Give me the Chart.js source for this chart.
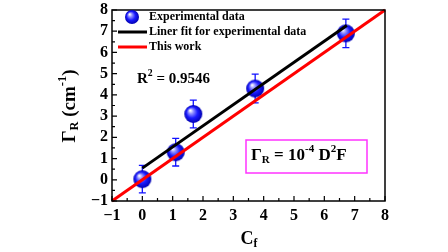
<!DOCTYPE html>
<html>
<head>
<meta charset="utf-8">
<script src="https://cdn.jsdelivr.net/npm/chart.js@4.4.1/dist/chart.umd.min.js"></script>
<style>
  html, body { margin: 0; padding: 0; background: #fff; }
  #wrap { width: 448px; height: 252px; }
</style>
</head>
<body>
<div id="wrap"><canvas id="c" width="448" height="252"></canvas></div>
<script>
'use strict';

// ===== data =====
const cfValues    = [0, 1.1, 1.68, 3.72, 6.71];
const gammaValues = [0.03, 1.3, 3.1, 4.3, 6.9];
const gammaErrors = [0.65, 0.65, 0.65, 0.68, 0.67];

const fitX = [0, 6.74];
const fitY = [0.55, 7.27];

const workX = [-1, 8];
const workY = [-1, 8];

const tickValues = [-1, 0, 1, 2, 3, 4, 5, 6, 7, 8];
const legendLabels = ['Experimental data', 'Liner fit for experimental data', 'This work'];

const FONT = '"Liberation Serif", "Times New Roman", serif';

// 球マーカー
function makeBall(r) {
  const cv = document.createElement('canvas');
  cv.width = cv.height = r * 2 + 2;
  const g = cv.getContext('2d');
  const c = r + 1;
  const grad = g.createRadialGradient(c - r * 0.35, c - r * 0.4, r * 0.05, c, c, r);
  grad.addColorStop(0, '#ffffff');
  grad.addColorStop(0.25, '#8f8fff');
  grad.addColorStop(0.6, '#1a1aff');
  grad.addColorStop(1, '#0000b0');
  g.fillStyle = grad;
  g.beginPath();
  g.arc(c, c, r, 0, Math.PI * 2);
  g.fill();
  return cv;
}
const ball = makeBall(9);
const ballSmall = makeBall(7);

function pts(xs, ys) {
  return xs.map((x, i) => ({ x: x, y: ys[i] }));
}

// 上付き・下付きテキスト
function drawRich(ctx, parts, x, y, size) {
  let cx = x;
  parts.forEach(([txt, mode]) => {
    let fs = size, dy = 0;
    if (mode === 'sub') { fs = size * 0.65; dy = size * 0.25; }
    if (mode === 'sup') { fs = size * 0.65; dy = -size * 0.38; }
    ctx.font = 'bold ' + fs + 'px ' + FONT;
    ctx.fillText(txt, cx, y + dy);
    cx += ctx.measureText(txt).width;
  });
  return cx - x;
}
function richWidth(ctx, parts, size) {
  let w = 0;
  parts.forEach(([txt, mode]) => {
    const fs = mode ? size * 0.65 : size;
    ctx.font = 'bold ' + fs + 'px ' + FONT;
    w += ctx.measureText(txt).width;
  });
  return w;
}

// ===== plugins =====
const errorBars = {
  id: 'errorBars',
  beforeDatasetsDraw(chart) {
    const { ctx, scales: { x, y } } = chart;
    ctx.save();
    ctx.strokeStyle = '#1010ff';
    ctx.lineWidth = 1.3;
    cfValues.forEach((v, i) => {
      const px = x.getPixelForValue(v);
      const top = y.getPixelForValue(gammaValues[i] + gammaErrors[i]);
      const bot = y.getPixelForValue(gammaValues[i] - gammaErrors[i]);
      ctx.beginPath();
      ctx.moveTo(px, top); ctx.lineTo(px, bot);
      ctx.moveTo(px - 3.5, top); ctx.lineTo(px + 3.5, top);
      ctx.moveTo(px - 3.5, bot); ctx.lineTo(px + 3.5, bot);
      ctx.stroke();
    });
    ctx.restore();
  }
};

const decorations = {
  id: 'decorations',
  afterDraw(chart) {
    const { ctx, chartArea: a, scales: { x, y } } = chart;
    ctx.save();

    // 枠
    ctx.strokeStyle = '#000';
    ctx.lineWidth = 1.5;
    ctx.strokeRect(a.left, a.top, a.right - a.left, a.bottom - a.top);

    // 内向き目盛
    ctx.lineWidth = 1.2;
    for (let v = -1; v <= 8; v += 0.5) {
      const major = Number.isInteger(v);
      const len = major ? 5 : 3;
      const px = x.getPixelForValue(v);
      const py = y.getPixelForValue(v);
      ctx.beginPath();
      ctx.moveTo(px, a.bottom); ctx.lineTo(px, a.bottom - len);
      ctx.moveTo(a.left, py); ctx.lineTo(a.left + len, py);
      ctx.stroke();
    }

    ctx.fillStyle = '#000';
    ctx.textBaseline = 'middle';

    // 凡例
    const lx = 118, tx = 149;
    const rows = [17, 32, 47];
    ctx.drawImage(ballSmall, 132 - 8, rows[0] - 8);
    ctx.lineWidth = 3;
    ctx.strokeStyle = '#000';
    ctx.beginPath(); ctx.moveTo(lx, rows[1]); ctx.lineTo(tx - 2, rows[1]); ctx.stroke();
    ctx.strokeStyle = '#ff0000';
    ctx.beginPath(); ctx.moveTo(lx, rows[2]); ctx.lineTo(tx - 2, rows[2]); ctx.stroke();
    ctx.font = 'bold 12px ' + FONT;
    legendLabels.forEach((t, i) => ctx.fillText(t, tx, rows[i]));

    // R²
    drawRich(ctx, [['R', null], ['2', 'sup'], [' = 0.9546', null]], 137, 79, 15);

    // 式の枠
    ctx.strokeStyle = '#ff33ff';
    ctx.lineWidth = 1.5;
    ctx.strokeRect(246, 140, 121, 33);
    drawRich(ctx, [['Γ', null], ['R', 'sub'], [' = 10', null], ['-4', 'sup'], [' D', null], ['2', 'sup'], ['F', null]], 251, 156, 17);

    // 軸タイトル
    const xt = [['C', null], ['f', 'sub']];
    drawRich(ctx, xt, 249 - richWidth(ctx, xt, 18) / 2, 239, 18);

    const yt = [['Γ', null], ['R', 'sub'], [' (cm', null], ['-1', 'sup'], [')', null]];
    ctx.translate(70, 106);
    ctx.rotate(-Math.PI / 2);
    drawRich(ctx, yt, -richWidth(ctx, yt, 19) / 2, 0, 19);

    ctx.restore();
  }
};

// ===== chart =====
const tickFont = { family: FONT, size: 16, weight: 'bold' };
const fmtTick = v => (v < 0 ? '\u2212' + Math.abs(v) : String(v));

new Chart(document.getElementById('c'), {
  type: 'scatter',
  data: {
    datasets: [
      {
        label: legendLabels[2],
        type: 'line',
        data: pts(workX, workY),
        borderColor: '#ff0000',
        borderWidth: 3,
        pointRadius: 0,
        order: 1,
        clip: 2,
      },
      {
        label: legendLabels[1],
        type: 'line',
        data: pts(fitX, fitY),
        borderColor: '#000000',
        borderWidth: 3,
        pointRadius: 0,
        order: 2,
      },
      {
        label: legendLabels[0],
        data: pts(cfValues, gammaValues),
        pointStyle: ball,
        pointRadius: 9,
        order: 3,
      },
    ],
  },
  options: {
    responsive: false,
    animation: false,
    layout: { padding: { left: 0, top: 7, right: 63, bottom: 0 } },
    plugins: { legend: { display: false }, tooltip: { enabled: false } },
    scales: {
      x: {
        type: 'linear',
        min: -1, max: 8,
        afterBuildTicks: s => { s.ticks = tickValues.map(v => ({ value: v })); },
        ticks: { font: tickFont, color: '#000', padding: 5, callback: fmtTick, maxRotation: 0, autoSkip: false },
        grid: { drawOnChartArea: false, drawTicks: false },
        border: { display: false },
        afterFit: s => { s.height = 51; s.paddingLeft = 0; s.paddingRight = 0; },
      },
      y: {
        type: 'linear',
        min: -1, max: 8,
        afterBuildTicks: s => { s.ticks = tickValues.map(v => ({ value: v })); },
        ticks: { font: tickFont, color: '#000', padding: 4, callback: fmtTick, autoSkip: false },
        grid: { drawOnChartArea: false, drawTicks: false },
        border: { display: false },
        afterFit: s => { s.width = 112; s.paddingTop = 0; s.paddingBottom = 0; },
      },
    },
  },
  plugins: [errorBars, decorations],
});
</script>
</body>
</html>
